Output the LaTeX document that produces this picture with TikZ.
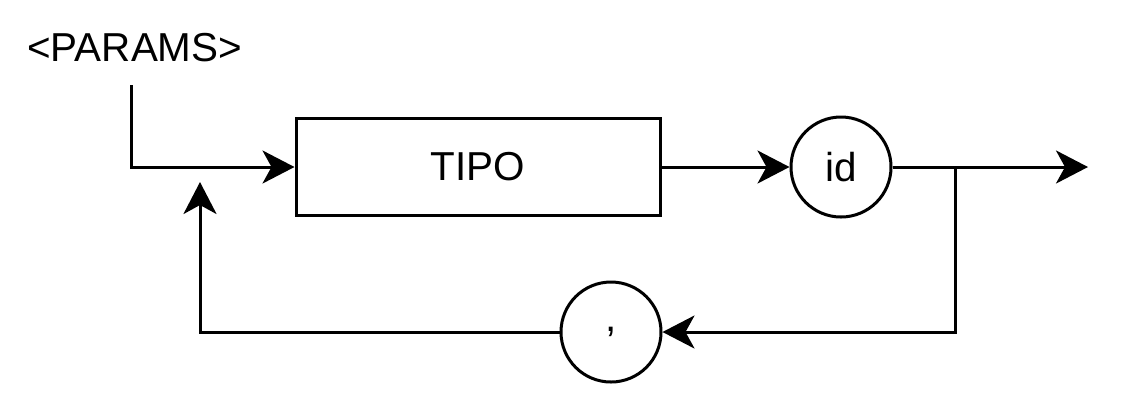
\documentclass[tikz,border=0pt]{standalone}
\usepackage{fontspec}
\setmainfont{Liberation Sans}
\usetikzlibrary{arrows.meta}

\newlength{\du}
\setlength{\du}{0.02cm}

\tikzset{
  diabox/.style={draw, line width=3\du, minimum width=364\du, minimum height=97\du, inner sep=0pt},
  diacircle/.style={draw, circle, line width=3\du, minimum size=100\du, inner sep=0pt},
  dialine/.style={line width=3\du},
  diaarrow/.style={line width=3\du, -{Stealth[length=0.64cm, width=0.66cm, inset=0.18cm]}},
}

\begin{document}
\begin{tikzpicture}
\pgftransformxscale{1.000000}
\pgftransformyscale{-1.000000}
\fontsize{23pt}{28pt}\selectfont
\useasboundingbox (0\du,0\du) rectangle (1142\du,414\du);
\definecolor{dialinecolor}{rgb}{0.000000, 0.000000, 0.000000}
\pgfsetstrokecolor{dialinecolor}
% label
\node[anchor=west, inner sep=0pt] (params) at (27\du,48\du){<PARAMS>};
% nodes
\node[diabox] (tipo) at (478\du,167\du){TIPO};
\node[diacircle] (id) at (841\du,167\du){id};
\node[diacircle] (comma) at (611\du,332\du){,};
% free ends
\coordinate (start) at (131\du,85\du);
\coordinate (out) at (1088\du,167\du);
\coordinate (branch) at (955\du,167\du);
\coordinate (back) at (200\du,182\du);
% connectors
\draw[diaarrow] (start) |- (tipo.west);
\draw[diaarrow] (tipo.east) -- (id.west);
\draw[diaarrow] (id.east) -- (out);
\draw[diaarrow] (branch) |- (comma.east);
\draw[diaarrow] (comma.west) -| (back);
\end{tikzpicture}
\end{document}
